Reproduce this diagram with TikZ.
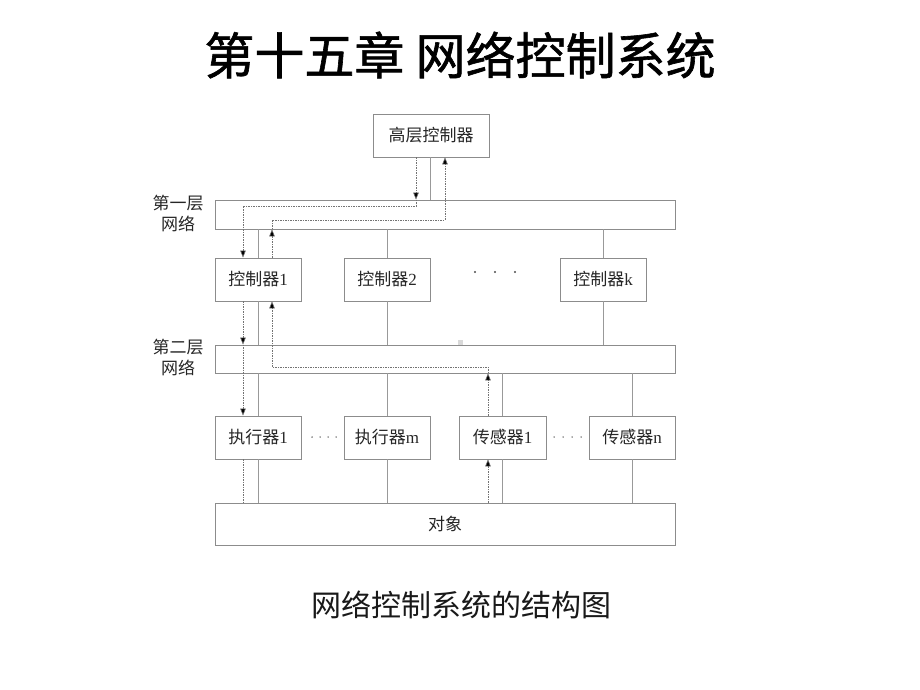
\documentclass[tikz,border=0pt]{standalone}
\usepackage{fontspec}
\setmainfont{Liberation Serif}
\newfontfamily\cjk{Noto Sans CJK SC}
\newfontfamily\cjkt[FakeBold=1.2]{Noto Sans CJK SC}
\usetikzlibrary{arrows.meta}
\begin{document}
\begin{tikzpicture}[x=1pt,y=-1pt,
  box/.style={draw=black!45, line width=0.8pt, inner sep=0pt, font=\fontsize{17}{20}\selectfont, text=black!85},
  wire/.style={draw=black!40, line width=0.8pt},
  sig/.style={draw=black!55, line width=0.6pt, dash pattern=on 1.5pt off 1pt},
  tip/.style={-{Triangle[length=7pt,width=5.5pt,fill=black]}},
  dotc/.style={fill=black!70, draw=none}]
\useasboundingbox (0,0) rectangle (920,690);
% title and caption
\node[font=\fontsize{50}{58}\selectfont\cjkt] (title) at (460,55) {第十五章 网络控制系统};
\node[font=\fontsize{30}{35}\selectfont\cjk, text=black!90] (cap) at (461,605) {网络控制系统的结构图};
% boxes
\node[box, minimum width=116pt, minimum height=43pt] (hc) at (431,135.5) {\cjk 高层控制器};
\node[box, minimum width=460pt, minimum height=29pt] (n1) at (445,214.5) {};
\node[box, minimum width=86pt, minimum height=43pt] (c1) at (258,279.5) {{\cjk 控制器}1};
\node[box, minimum width=86pt, minimum height=43pt] (c2) at (387,279.5) {{\cjk 控制器}2};
\node[box, minimum width=86pt, minimum height=43pt] (ck) at (603,279.5) {{\cjk 控制器}k};
\node[box, minimum width=460pt, minimum height=28pt] (n2) at (445,359) {};
\node[box, minimum width=86pt, minimum height=43pt] (a1) at (258,437.5) {{\cjk 执行器}1};
\node[box, minimum width=86pt, minimum height=43pt] (am) at (387,437.5) {{\cjk 执行器}m};
\node[box, minimum width=87pt, minimum height=43pt] (s1) at (502.5,437.5) {{\cjk 传感器}1};
\node[box, minimum width=86pt, minimum height=43pt] (sn) at (632,437.5) {{\cjk 传感器}n};
\node[box, minimum width=460pt, minimum height=42pt] (obj) at (445,524) {\cjk 对象};
% layer labels
\node[font=\fontsize{17}{21}\selectfont\cjk, text=black!85, align=center] (l1) at (178,213) {第一层\\网络};
\node[font=\fontsize{17}{21}\selectfont\cjk, text=black!85, align=center] (l2) at (178,357) {第二层\\网络};
% dots
\foreach \x in {475,495,515} \fill[dotc] (\x,272) circle (1.1pt);
\foreach \x in {312,320,328,336} \fill[dotc] (\x,437) circle (0.75pt);
\foreach \x in {554,563,572,581} \fill[dotc] (\x,437) circle (0.75pt);
\fill[black!15] (457.5,339.5) rectangle (462.5,344.5);
% solid wires
\draw[wire] (hc.south -| 430,0) -- (n1.north -| 430,0);
\draw[wire] (n1.south -| c1) -- (c1.north);
\draw[wire] (n1.south -| c2) -- (c2.north);
\draw[wire] (n1.south -| ck) -- (ck.north);
\draw[wire] (c1.south) -- (n2.north -| c1);
\draw[wire] (c2.south) -- (n2.north -| c2);
\draw[wire] (ck.south) -- (n2.north -| ck);
\draw[wire] (n2.south -| a1) -- (a1.north);
\draw[wire] (n2.south -| am) -- (am.north);
\draw[wire] (n2.south -| s1) -- (s1.north);
\draw[wire] (n2.south -| sn) -- (sn.north);
\draw[wire] (a1.south) -- (obj.north -| a1);
\draw[wire] (am.south) -- (obj.north -| am);
\draw[wire] (s1.south) -- (obj.north -| s1);
\draw[wire] (sn.south) -- (obj.north -| sn);
% dashed signal paths: downward (control)
\coordinate (d1) at (416,206);
\coordinate (d2) at (243,206);
\draw[sig, tip] (hc.south -| d1) -- (n1.north -| d1);
\draw[sig, tip] (n1.north -| d1) -- (d1) -- (d2) -- (c1.north -| d2);
\draw[sig, tip] (c1.south -| d2) -- (n2.north -| d2);
\draw[sig, tip] (n2.north -| d2) -- (a1.north -| d2);
\draw[sig] (a1.south -| d2) -- (obj.north -| d2);
% dashed signal paths: upward (measurement)
\coordinate (u1) at (272,220);
\coordinate (u2) at (445,220);
\coordinate (u3) at (488,367);
\coordinate (u4) at (272,367);
\draw[sig, tip] (c1.north -| u1) -- (n1.south -| u1);
\draw[sig, tip] (n1.south -| u1) -- (u1) -- (u2) -- (hc.south -| u2);
\draw[sig, tip] (obj.north -| u3) -- (s1.south -| u3);
\draw[sig, tip] (s1.north -| u3) -- (n2.south -| u3);
\draw[sig, tip] (n2.south -| u3) -- (u3) -- (u4) -- (c1.south -| u4);
\end{tikzpicture}
\end{document}
